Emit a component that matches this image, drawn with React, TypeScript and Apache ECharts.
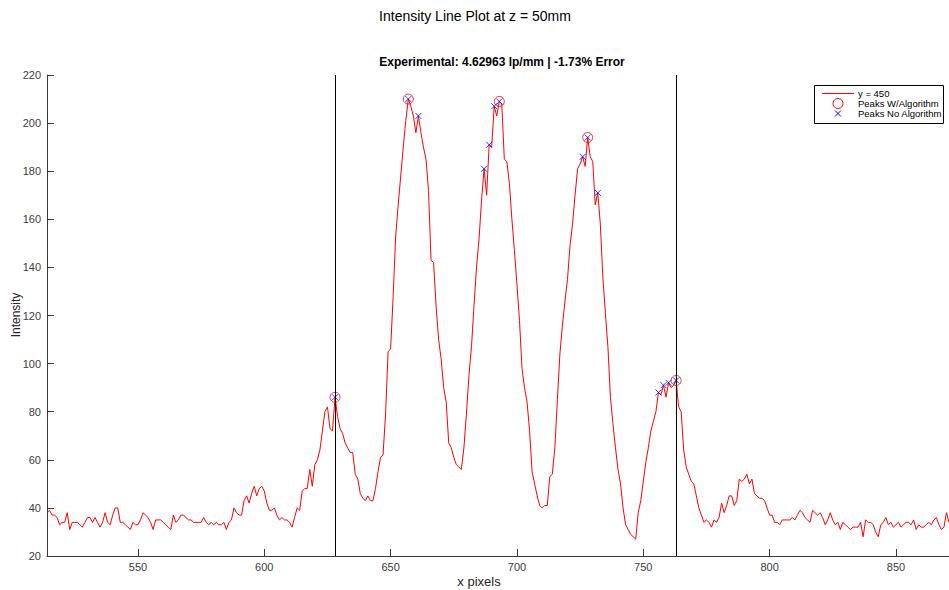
import React, { useEffect, useRef } from 'react';
import * as echarts from 'echarts';

// x pixel positions start at 514 and advance by one pixel per sample
const X_START = 514;
const X_END = 871;

// Intensity along the line y = 450, for x = 514 .. 871
const intensity: number[] = [
  38, 39, 37, 37, 36, 33, 34, 34, 38, 31,
  34, 34, 34, 33, 32, 34, 36, 36, 34, 36,
  34, 32, 34, 38, 34, 33, 37, 40, 40, 34,
  34, 33, 32, 31, 34, 33, 33, 35, 38, 37,
  36, 34, 31, 35, 35, 35, 34, 33, 32, 31,
  37, 34, 35, 37, 37, 36, 35, 35, 34, 34,
  34, 34, 36, 34, 33, 34, 33, 34, 33, 33,
  34, 31, 34, 35, 40, 38, 37, 37, 43, 45,
  42, 46, 49, 45, 48, 49, 47, 42, 39, 39,
  40, 37, 35, 36, 35, 35, 34, 32, 36, 40,
  39, 47, 48, 48, 56, 49, 58, 60, 64, 72,
  80, 82, 73, 72, 86, 78, 73, 71, 67, 65,
  63, 63, 54, 52, 46, 44, 43, 45, 43, 43,
  48, 55, 61, 62, 79, 105, 106, 128, 153, 166,
  178, 190, 201, 210, 207, 203, 196, 203, 196, 190,
  185, 172, 143, 142, 124, 110, 102, 90, 84, 67,
  65, 61, 58, 57, 56, 65, 79, 95, 107, 124,
  140, 152, 168, 181, 170, 191, 190, 207, 203, 209,
  208, 185, 184, 175, 160, 147, 133, 118, 98, 90,
  84, 72, 55, 50, 45, 41, 40, 41, 41, 53,
  54, 65, 85, 104, 116, 126, 135, 149, 158, 170,
  181, 183, 186, 182, 194, 186, 184, 166, 171, 158,
  136, 121, 107, 86, 75, 65, 56, 50, 40, 33,
  31, 29, 28, 27, 38, 43, 51, 59, 65, 72,
  76, 80, 88, 87, 91, 86, 92, 90, 91, 93,
  82, 80, 64, 57, 54, 51, 50, 45, 40, 37,
  34, 35, 34, 32, 35, 34, 36, 42, 38, 41,
  45, 45, 41, 43, 52, 51, 52, 54, 50, 52,
  46, 45, 44, 44, 43, 40, 37, 37, 34, 34,
  33, 35, 35, 35, 35, 36, 35, 37, 39, 38,
  36, 35, 34, 39, 38, 37, 38, 36, 33, 35,
  38, 35, 33, 34, 31, 34, 33, 32, 31, 32,
  32, 32, 34, 28, 35, 34, 34, 33, 30, 28,
  33, 34, 36, 33, 34, 32, 33, 34, 32, 33,
  34, 34, 33, 35, 31, 33, 32, 32, 33, 34,
  33, 35, 36, 33, 31, 32, 38, 34,
];

// Peak positions (x pixels)
const peaksWithAlgorithm = [628, 657, 693, 728, 763];
const peaksNoAlgorithm = [628, 657, 661, 687, 689, 691, 693, 726, 728, 732, 756, 758, 760, 763];

// Vertical boundary lines
const boundaryLines = [628, 763];

// Axis ticks
const xTickValues = [550, 600, 650, 700, 750, 800, 850];
const Y_MIN = 20;
const Y_MAX = 220;
const Y_STEP = 20;

// Texts
const TITLE = 'Intensity Line Plot at z = 50mm';
const SUBTITLE = 'Experimental: 4.62963 lp/mm | -1.73% Error';
const X_LABEL = 'x pixels';
const Y_LABEL = 'Intensity';
const LEGEND_LINE = 'y = 450';
const LEGEND_W = 'Peaks W/Algorithm';
const LEGEND_NO = 'Peaks No Algorithm';

const FONT = '"Liberation Sans", Arial, Helvetica, sans-serif';

const valueAt = (x: number) => intensity[x - X_START];

export default function App() {
  const ref = useRef<HTMLDivElement>(null);

  useEffect(() => {
    if (!ref.current) return;
    const chart = echarts.init(ref.current, undefined, { renderer: 'svg' });

    const lineData = intensity.map((v, i) => [X_START + i, v]);
    const wData = peaksWithAlgorithm.map((x) => [x, valueAt(x)]);
    const noData = peaksNoAlgorithm.map((x) => [x, valueAt(x)]);

    const axisColor = '#3a3a3a';
    const labelColor = '#404040';

    chart.setOption({
      animation: false,
      backgroundColor: '#ffffff',
      textStyle: { fontFamily: FONT },
      grid: { left: 47, right: 0, top: 75, bottom: 34, containLabel: false },
      xAxis: {
        type: 'value',
        min: X_START,
        max: X_END,
        splitLine: { show: false },
        axisLine: { show: true, onZero: false, lineStyle: { color: axisColor, width: 1 } },
        axisTick: {
          show: true,
          inside: true,
          length: 7,
          customValues: xTickValues,
          lineStyle: { color: axisColor },
        },
        axisLabel: {
          show: true,
          customValues: xTickValues,
          color: labelColor,
          fontSize: 11,
          fontFamily: FONT,
          margin: 5,
        },
      },
      yAxis: {
        type: 'value',
        min: Y_MIN,
        max: Y_MAX,
        interval: Y_STEP,
        splitLine: { show: false },
        axisLine: { show: true, lineStyle: { color: axisColor, width: 1 } },
        axisTick: { show: true, inside: true, length: 7, lineStyle: { color: axisColor } },
        axisLabel: { color: labelColor, fontSize: 11, fontFamily: FONT, margin: 6 },
      },
      series: [
        {
          name: LEGEND_LINE,
          type: 'line',
          data: lineData,
          symbol: 'none',
          lineStyle: { color: '#ff0000', width: 1 },
          z: 2,
          markLine: {
            silent: true,
            symbol: 'none',
            label: { show: false },
            lineStyle: { color: '#000000', width: 1, type: 'solid' },
            data: boundaryLines.map((x) => ({ xAxis: x })),
          },
        },
        {
          name: LEGEND_W,
          type: 'scatter',
          data: wData,
          symbol: 'circle',
          symbolSize: 10,
          itemStyle: { color: 'transparent', borderColor: '#ff0000', borderWidth: 1 },
          z: 3,
        },
        {
          name: LEGEND_NO,
          type: 'scatter',
          data: noData,
          symbol: 'path://M0,0L10,10M10,0L0,10',
          symbolSize: 6,
          itemStyle: { color: 'transparent', borderColor: '#0000ff', borderWidth: 1 },
          z: 4,
        },
      ],
      graphic: [
        {
          type: 'text',
          x: 475,
          y: 16,
          style: { text: TITLE, font: `14px ${FONT}`, fill: '#000', align: 'center', verticalAlign: 'middle' },
        },
        {
          type: 'text',
          x: 502,
          y: 62,
          style: { text: SUBTITLE, font: `bold 12px ${FONT}`, fill: '#000', align: 'center', verticalAlign: 'middle' },
        },
        {
          type: 'text',
          x: 479,
          y: 581,
          style: { text: X_LABEL, font: `13px ${FONT}`, fill: '#262626', align: 'center', verticalAlign: 'middle' },
        },
        {
          type: 'text',
          x: 16,
          y: 315,
          rotation: Math.PI / 2,
          style: { text: Y_LABEL, font: `12px ${FONT}`, fill: '#262626', align: 'center', verticalAlign: 'middle' },
        },
        // legend box
        {
          type: 'rect',
          shape: { x: 814.5, y: 85.5, width: 129, height: 38 },
          style: { fill: '#ffffff', stroke: '#000000', lineWidth: 1 },
          z: 100,
        },
        {
          type: 'rect',
          shape: { x: 822, y: 93, width: 32, height: 1 },
          style: { fill: '#ff0000' },
          z: 101,
        },
        {
          type: 'circle',
          shape: { cx: 838, cy: 103.5, r: 5 },
          style: { fill: 'none', stroke: '#ff0000', lineWidth: 1 },
          z: 101,
        },
        {
          type: 'line',
          shape: { x1: 835, y1: 110.5, x2: 841, y2: 116.5 },
          style: { stroke: '#0000ff', lineWidth: 1 },
          z: 101,
        },
        {
          type: 'line',
          shape: { x1: 841, y1: 110.5, x2: 835, y2: 116.5 },
          style: { stroke: '#0000ff', lineWidth: 1 },
          z: 101,
        },
        {
          type: 'text',
          x: 858,
          y: 93.5,
          style: { text: LEGEND_LINE, font: `9.5px ${FONT}`, fill: '#000', align: 'left', verticalAlign: 'middle' },
          z: 101,
        },
        {
          type: 'text',
          x: 858,
          y: 103.5,
          style: { text: LEGEND_W, font: `9.5px ${FONT}`, fill: '#000', align: 'left', verticalAlign: 'middle' },
          z: 101,
        },
        {
          type: 'text',
          x: 858,
          y: 113.5,
          style: { text: LEGEND_NO, font: `9.5px ${FONT}`, fill: '#000', align: 'left', verticalAlign: 'middle' },
          z: 101,
        },
      ],
    });

    return () => {
      chart.dispose();
    };
  }, []);

  return (
    <div
      ref={ref}
      style={{ position: 'absolute', left: 0, top: 0, width: 949, height: 590, background: '#fff' }}
    />
  );
}
